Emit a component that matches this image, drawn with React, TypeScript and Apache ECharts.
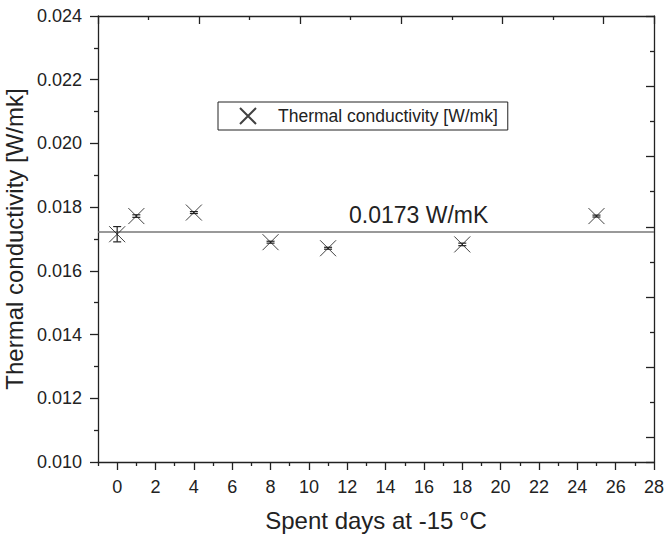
import React, { useEffect, useRef } from "react";
import * as echarts from "echarts";

const days = [0, 1, 4, 8, 11, 18, 25];
const conductivity = [0.01715, 0.01772, 0.01783, 0.0169, 0.01671, 0.01683, 0.01772];
const errors = [0.00024, 0.00004, 0.00003, 0.00003, 0.00003, 0.00004, 0.00003];
const meanValue = 0.01722;
const meanLabel = "0.0173 W/mK";
const seriesName = "Thermal conductivity [W/mk]";
const xMin = -1;
const xMax = 28;
const xMajorTicks = [0, 2, 4, 6, 8, 10, 12, 14, 16, 18, 20, 22, 24, 26, 28];
const xMinorTicks = [-1, 1, 3, 5, 7, 9, 11, 13, 15, 17, 19, 21, 23, 25, 27];

const FONT = '"Liberation Sans", Arial, Helvetica, sans-serif';
const INK = "#222";
const CROSS = "path://M0,0L10,10M10,0L0,10";

export default function App() {
  const ref = useRef<HTMLDivElement>(null);
  useEffect(() => {
    if (!ref.current) return;
    const chart = echarts.init(ref.current, undefined, { renderer: "svg" });
    const points = days.map((d, i) => [d, conductivity[i]]);
    const errData = days.map((d, i) => [d, conductivity[i], errors[i]]);
    const meanLine = [
      [xMin, meanValue],
      [xMax, meanValue],
    ];
    chart.setOption({
      animation: false,
      backgroundColor: "#fff",
      textStyle: { fontFamily: FONT },
      grid: { left: 98, right: 10, top: 16, bottom: 74, outerBoundsMode: "none", containLabel: false },
      legend: {
        data: [seriesName],
        left: 218,
        top: 102,
        orient: "horizontal",
        borderColor: INK,
        borderWidth: 1,
        padding: [5, 10, 5, 21],
        itemWidth: 16,
        itemHeight: 16,
        icon: CROSS,
        textStyle: { fontFamily: FONT, fontSize: 17.5, color: INK, padding: [0, 0, 0, 17] },
        selectedMode: false,
      },
      xAxis: [
        {
          type: "value",
          position: "bottom",
          min: xMin,
          max: xMax,
          splitLine: { show: false },
          axisLine: { show: true, onZero: false, lineStyle: { color: INK, width: 1.3 } },
          axisTick: { show: true, customValues: xMajorTicks, length: 8, lineStyle: { color: INK, width: 1.3 } },
          axisLabel: { customValues: xMajorTicks, fontSize: 18, color: INK, margin: 16, fontFamily: FONT },
          name: "Spent days at -15 {sup|o}C",
          nameLocation: "middle",
          nameGap: 44,
          nameTextStyle: {
            fontSize: 24,
            lineHeight: 28,
            color: INK,
            fontFamily: FONT,
            rich: { sup: { fontSize: 15, lineHeight: 28, padding: [0, 1, 11, 0], fontFamily: FONT, color: INK } },
          },
        },
        {
          type: "value",
          position: "top",
          min: 0,
          max: 11,
          interval: 2,
          splitLine: { show: false },
          axisLine: { show: true, onZero: false, lineStyle: { color: INK, width: 1.3 } },
          axisTick: { show: true, inside: true, length: 8, lineStyle: { color: INK, width: 1.3 } },
          minorTick: { show: true, splitNumber: 2, length: 4, lineStyle: { color: INK, width: 1.3 } },
          axisLabel: { show: false },
        },
        {
          type: "value",
          position: "bottom",
          min: xMin,
          max: xMax,
          splitLine: { show: false },
          axisLine: { show: false, onZero: false },
          axisTick: { show: true, customValues: xMinorTicks, length: 4, lineStyle: { color: INK, width: 1.3 } },
          axisLabel: { show: false },
        },
      ],
      yAxis: [
        {
          type: "value",
          position: "left",
          min: 0.01,
          max: 0.024,
          interval: 0.002,
          splitLine: { show: false },
          axisLine: { show: true, onZero: false, lineStyle: { color: INK, width: 1.3 } },
          axisTick: { show: true, length: 8, lineStyle: { color: INK, width: 1.3 } },
          minorTick: { show: true, splitNumber: 2, length: 4, lineStyle: { color: INK, width: 1.3 } },
          axisLabel: {
            fontSize: 18,
            color: INK,
            margin: 16,
            fontFamily: FONT,
            formatter: (v: number) => v.toFixed(3),
          },
          name: seriesName,
          nameLocation: "middle",
          nameGap: 66,
          nameTextStyle: { fontSize: 24, color: INK, fontFamily: FONT },
        },
        {
          type: "value",
          position: "right",
          inverse: true,
          min: 0,
          max: 12.69,
          interval: 2,
          splitLine: { show: false },
          axisLine: { show: true, onZero: false, lineStyle: { color: INK, width: 1.3 } },
          axisTick: { show: true, inside: true, length: 8, lineStyle: { color: INK, width: 1.3 } },
          minorTick: { show: true, splitNumber: 2, length: 4, lineStyle: { color: INK, width: 1.3 } },
          axisLabel: { show: false },
        },
      ],
      graphic: [
        {
          type: "text",
          left: 349,
          top: 203,
          style: { text: meanLabel, font: `23px ${FONT}`, fill: INK },
        },
      ],
      series: [
        {
          name: "mean",
          type: "line",
          xAxisIndex: 0,
          yAxisIndex: 0,
          data: meanLine,
          showSymbol: false,
          symbol: "none",
          silent: true,
          lineStyle: { color: "#777", width: 1.5 },
          z: 2,
        },
        {
          name: seriesName,
          type: "scatter",
          xAxisIndex: 0,
          yAxisIndex: 0,
          data: points,
          symbol: CROSS,
          symbolSize: 16,
          itemStyle: { color: "transparent", borderColor: "#111", borderWidth: 1 },
          z: 3,
        },
        {
          name: "errors",
          type: "custom",
          xAxisIndex: 0,
          yAxisIndex: 0,
          data: errData,
          encode: { x: 0, y: 1 },
          silent: true,
          z: 4,
          renderItem: (params: any, api: any) => {
            const x = api.value(0);
            const y = api.value(1);
            const e = api.value(2);
            const top = api.coord([x, y + e]);
            const bot = api.coord([x, y - e]);
            const w = 4;
            const st = { stroke: "#222", lineWidth: 1.2 };
            return {
              type: "group",
              children: [
                { type: "line", shape: { x1: top[0], y1: top[1], x2: bot[0], y2: bot[1] }, style: st },
                { type: "line", shape: { x1: top[0] - w, y1: top[1], x2: top[0] + w, y2: top[1] }, style: st },
                { type: "line", shape: { x1: bot[0] - w, y1: bot[1], x2: bot[0] + w, y2: bot[1] }, style: st },
              ],
            };
          },
        },
      ],
    });
    return () => chart.dispose();
  }, []);
  return (
    <div
      ref={ref}
      style={{ position: "fixed", left: 0, top: 0, width: 664, height: 536, background: "#fff" }}
    />
  );
}
